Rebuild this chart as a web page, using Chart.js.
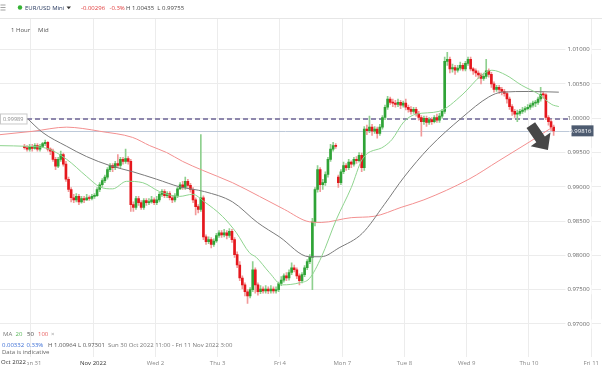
<!DOCTYPE html>
<html>
<head>
<meta charset="utf-8">
<script src="https://cdn.jsdelivr.net/npm/chart.js@4.4.0/dist/chart.umd.min.js"></script>
<style>
  html, body { margin: 0; padding: 0; background: #fff; }
  #wrap { width: 602px; height: 368px; position: relative; }
</style>
</head>
<body>
<div id="wrap"><canvas id="grafico"></canvas></div>
<script>
// dados: candles de 1 hora, hora 0 = seg 31 out 00:00 (primeiro candle = dom 21:00)
const startHour = -3;

const opens = [
  0.9959, 0.9957, 0.9955, 0.9959, 0.9956, 0.9960, 0.9955, 0.9959, 0.9963, 0.9965,
  0.9955, 0.9952, 0.9940, 0.9930, 0.9940, 0.9947, 0.9933, 0.9911, 0.9896, 0.9884,
  0.9881, 0.9886, 0.9878, 0.9883, 0.9881, 0.9884, 0.9883, 0.9886, 0.9887, 0.9896,
  0.9903, 0.9909, 0.9914, 0.9925, 0.9931, 0.9928, 0.9934, 0.9931, 0.9940, 0.9937,
  0.9941, 0.9937, 0.9874, 0.9870, 0.9883, 0.9877, 0.9870, 0.9880, 0.9877, 0.9878,
  0.9881, 0.9877, 0.9881, 0.9889, 0.9893, 0.9887, 0.9890, 0.9884, 0.9881, 0.9887,
  0.9897, 0.9903, 0.9899, 0.9908, 0.9902, 0.9896, 0.9881, 0.9871, 0.9867, 0.9884,
  0.9827, 0.9820, 0.9823, 0.9816, 0.9821, 0.9829, 0.9833, 0.9830, 0.9833, 0.9829,
  0.9835, 0.9823, 0.9801, 0.9786, 0.9767, 0.9757, 0.9747, 0.9741, 0.9750, 0.9779,
  0.9757, 0.9747, 0.9751, 0.9748, 0.9751, 0.9748, 0.9751, 0.9748, 0.9750, 0.9759,
  0.9764, 0.9770, 0.9767, 0.9775, 0.9782, 0.9779, 0.9770, 0.9763, 0.9772, 0.9782,
  0.9791, 0.9797, 0.9849, 0.9896, 0.9925, 0.9903, 0.9906, 0.9918, 0.9940, 0.9955,
  0.9960, 0.9914, 0.9906, 0.9922, 0.9931, 0.9928, 0.9936, 0.9933, 0.9940, 0.9938,
  0.9946, 0.9928, 0.9984, 0.9982, 0.9987, 0.9981, 0.9984, 0.9978, 0.9987, 1.0001,
  1.0016, 1.0028, 1.0023, 1.0022, 1.0020, 1.0023, 1.0019, 1.0022, 1.0016, 1.0013,
  1.0010, 1.0013, 1.0007, 1.0001, 0.9995, 1.0000, 0.9994, 0.9998, 0.9995, 1.0001,
  0.9997, 1.0003, 1.0010, 1.0083, 1.0086, 1.0072, 1.0074, 1.0070, 1.0073, 1.0077,
  1.0072, 1.0080, 1.0086, 1.0072, 1.0069, 1.0066, 1.0063, 1.0058, 1.0061, 1.0069,
  1.0064, 1.0050, 1.0042, 1.0045, 1.0042, 1.0039, 1.0036, 1.0028, 1.0017, 1.0010,
  1.0006, 1.0007, 1.0010, 1.0012, 1.0014, 1.0016, 1.0019, 1.0022, 1.0023, 1.0028,
  1.0035, 1.0034, 1.0001, 0.9995, 0.9987
];

const highs = [
  0.9962, 0.9960, 0.9962, 0.9962, 0.9963, 0.9963, 0.9962, 0.9965, 0.9968, 0.9966,
  0.9957, 0.9955, 0.9943, 0.9943, 0.9952, 0.9949, 0.9937, 0.9914, 0.9899, 0.9889,
  0.9890, 0.9889, 0.9886, 0.9886, 0.9889, 0.9887, 0.9889, 0.9890, 0.9899, 0.9906,
  0.9912, 0.9917, 0.9928, 0.9934, 0.9934, 0.9937, 0.9947, 0.9943, 0.9943, 0.9955,
  0.9944, 0.9940, 0.9878, 0.9886, 0.9886, 0.9880, 0.9883, 0.9883, 0.9883, 0.9886,
  0.9884, 0.9886, 0.9892, 0.9896, 0.9896, 0.9893, 0.9893, 0.9887, 0.9890, 0.9900,
  0.9906, 0.9908, 0.9914, 0.9911, 0.9905, 0.9899, 0.9884, 0.9874, 0.9976, 0.9887,
  0.9830, 0.9827, 0.9826, 0.9824, 0.9832, 0.9836, 0.9836, 0.9838, 0.9836, 0.9839,
  0.9838, 0.9826, 0.9805, 0.9791, 0.9770, 0.9760, 0.9750, 0.9753, 0.9791, 0.9782,
  0.9760, 0.9756, 0.9754, 0.9756, 0.9754, 0.9756, 0.9754, 0.9754, 0.9761, 0.9769,
  0.9773, 0.9775, 0.9779, 0.9789, 0.9786, 0.9782, 0.9773, 0.9775, 0.9785, 0.9794,
  0.9801, 0.9854, 0.9899, 0.9931, 0.9928, 0.9911, 0.9922, 0.9943, 0.9962, 0.9965,
  0.9963, 0.9917, 0.9925, 0.9936, 0.9934, 0.9940, 0.9938, 0.9943, 0.9944, 0.9950,
  0.9949, 0.9988, 0.9990, 1.0003, 0.9991, 0.9988, 0.9987, 0.9991, 1.0004, 1.0019,
  1.0032, 1.0031, 1.0028, 1.0026, 1.0028, 1.0026, 1.0025, 1.0028, 1.0019, 1.0017,
  1.0016, 1.0016, 1.0010, 1.0004, 1.0003, 1.0003, 1.0001, 1.0001, 1.0004, 1.0006,
  1.0007, 1.0013, 1.0089, 1.0096, 1.0089, 1.0079, 1.0077, 1.0077, 1.0082, 1.0080,
  1.0083, 1.0089, 1.0089, 1.0074, 1.0072, 1.0069, 1.0066, 1.0066, 1.0086, 1.0072,
  1.0067, 1.0053, 1.0048, 1.0048, 1.0045, 1.0042, 1.0039, 1.0031, 1.0020, 1.0013,
  1.0012, 1.0013, 1.0016, 1.0017, 1.0020, 1.0022, 1.0025, 1.0026, 1.0031, 1.0045,
  1.0039, 1.0036, 1.0004, 0.9998, 0.9990
];

const lows = [
  0.9955, 0.9952, 0.9952, 0.9952, 0.9955, 0.9952, 0.9952, 0.9957, 0.9960, 0.9952,
  0.9947, 0.9937, 0.9925, 0.9928, 0.9937, 0.9930, 0.9908, 0.9893, 0.9878, 0.9877,
  0.9878, 0.9874, 0.9876, 0.9877, 0.9880, 0.9880, 0.9881, 0.9883, 0.9886, 0.9893,
  0.9900, 0.9906, 0.9911, 0.9922, 0.9922, 0.9925, 0.9928, 0.9928, 0.9933, 0.9934,
  0.9933, 0.9864, 0.9864, 0.9867, 0.9873, 0.9867, 0.9867, 0.9873, 0.9874, 0.9876,
  0.9874, 0.9874, 0.9878, 0.9886, 0.9884, 0.9884, 0.9881, 0.9877, 0.9878, 0.9884,
  0.9896, 0.9896, 0.9896, 0.9899, 0.9892, 0.9877, 0.9859, 0.9862, 0.9864, 0.9823,
  0.9816, 0.9817, 0.9811, 0.9813, 0.9819, 0.9826, 0.9826, 0.9827, 0.9824, 0.9826,
  0.9819, 0.9797, 0.9782, 0.9763, 0.9751, 0.9741, 0.9730, 0.9738, 0.9747, 0.9745,
  0.9742, 0.9744, 0.9745, 0.9745, 0.9744, 0.9745, 0.9745, 0.9745, 0.9747, 0.9756,
  0.9761, 0.9763, 0.9764, 0.9772, 0.9776, 0.9766, 0.9757, 0.9760, 0.9769, 0.9779,
  0.9788, 0.9750, 0.9843, 0.9892, 0.9893, 0.9896, 0.9902, 0.9914, 0.9937, 0.9952,
  0.9956, 0.9899, 0.9903, 0.9919, 0.9924, 0.9925, 0.9928, 0.9930, 0.9934, 0.9936,
  0.9922, 0.9924, 0.9976, 0.9979, 0.9975, 0.9978, 0.9971, 0.9975, 0.9984, 0.9998,
  1.0013, 1.0020, 1.0017, 1.0016, 1.0017, 1.0014, 1.0016, 1.0012, 1.0009, 1.0006,
  1.0007, 1.0003, 0.9997, 0.9974, 0.9991, 0.9988, 0.9991, 0.9991, 0.9993, 0.9994,
  0.9994, 1.0000, 1.0007, 1.0077, 1.0066, 1.0067, 1.0064, 1.0067, 1.0070, 1.0069,
  1.0069, 1.0077, 1.0069, 1.0064, 1.0061, 1.0058, 1.0050, 1.0055, 1.0058, 1.0060,
  1.0045, 1.0038, 1.0039, 1.0036, 1.0034, 1.0032, 1.0022, 1.0013, 1.0004, 1.0001,
  0.9995, 1.0004, 1.0007, 1.0009, 1.0012, 1.0013, 1.0016, 1.0017, 1.0020, 1.0025,
  1.0029, 0.9998, 0.9990, 0.9982, 0.9975
];

const closes = [
  0.9957, 0.9955, 0.9959, 0.9956, 0.9960, 0.9955, 0.9959, 0.9963, 0.9965, 0.9955,
  0.9952, 0.9940, 0.9930, 0.9940, 0.9947, 0.9933, 0.9911, 0.9896, 0.9884, 0.9881,
  0.9886, 0.9878, 0.9883, 0.9881, 0.9884, 0.9883, 0.9886, 0.9887, 0.9896, 0.9903,
  0.9909, 0.9914, 0.9925, 0.9931, 0.9928, 0.9934, 0.9931, 0.9940, 0.9937, 0.9941,
  0.9937, 0.9874, 0.9870, 0.9883, 0.9877, 0.9870, 0.9880, 0.9877, 0.9878, 0.9881,
  0.9877, 0.9881, 0.9889, 0.9893, 0.9887, 0.9890, 0.9884, 0.9881, 0.9887, 0.9897,
  0.9903, 0.9899, 0.9908, 0.9902, 0.9896, 0.9881, 0.9871, 0.9867, 0.9884, 0.9827,
  0.9820, 0.9823, 0.9816, 0.9821, 0.9829, 0.9833, 0.9830, 0.9833, 0.9829, 0.9835,
  0.9823, 0.9801, 0.9786, 0.9767, 0.9757, 0.9747, 0.9741, 0.9750, 0.9779, 0.9757,
  0.9747, 0.9751, 0.9748, 0.9751, 0.9748, 0.9751, 0.9748, 0.9750, 0.9759, 0.9764,
  0.9770, 0.9767, 0.9775, 0.9782, 0.9779, 0.9770, 0.9763, 0.9772, 0.9782, 0.9791,
  0.9797, 0.9849, 0.9896, 0.9925, 0.9903, 0.9906, 0.9918, 0.9940, 0.9955, 0.9960,
  0.9959, 0.9906, 0.9922, 0.9931, 0.9928, 0.9936, 0.9933, 0.9940, 0.9938, 0.9946,
  0.9928, 0.9984, 0.9982, 0.9987, 0.9981, 0.9984, 0.9978, 0.9987, 1.0001, 1.0016,
  1.0028, 1.0023, 1.0022, 1.0020, 1.0023, 1.0019, 1.0022, 1.0016, 1.0013, 1.0010,
  1.0013, 1.0007, 1.0001, 0.9995, 1.0000, 0.9994, 0.9998, 0.9995, 1.0001, 0.9997,
  1.0003, 1.0010, 1.0083, 1.0086, 1.0072, 1.0074, 1.0070, 1.0073, 1.0077, 1.0072,
  1.0080, 1.0086, 1.0072, 1.0069, 1.0066, 1.0063, 1.0058, 1.0061, 1.0069, 1.0064,
  1.0050, 1.0042, 1.0045, 1.0042, 1.0039, 1.0036, 1.0028, 1.0017, 1.0010, 1.0006,
  1.0007, 1.0010, 1.0012, 1.0014, 1.0016, 1.0019, 1.0022, 1.0023, 1.0028, 1.0035,
  1.0034, 1.0001, 0.9995, 0.9987, 0.99816
];

// medias moveis
const ma20Hours = [-12, -1.5, 6.2, 13.8, 21.5, 26.5, 31.5, 36.9, 43.1, 49.6, 57.3, 62.3, 66.9, 73.8, 79.2, 84.2, 86.9, 91.9, 96.9, 103.5, 107.3, 111.9, 117.7, 123.5, 127.7, 136.2, 139.2, 143.8, 148.5, 157.3, 166.2, 173.8, 177.7, 183.1, 189.2, 195.8, 200.8, 203.5];
const ma20Values = [0.9960, 0.9959, 0.9956, 0.9940, 0.9915, 0.9900, 0.9897, 0.9908, 0.9906, 0.9893, 0.9886, 0.9889, 0.9878, 0.9857, 0.9833, 0.9804, 0.9797, 0.9775, 0.9757, 0.9760, 0.9766, 0.9797, 0.9852, 0.9899, 0.9940, 0.9959, 0.9969, 0.9995, 1.0006, 1.0010, 1.0034, 1.0063, 1.0070, 1.0063, 1.0048, 1.0035, 1.0020, 1.0017];

const ma50Hours = [-1.5, 4.6, 13.8, 21.5, 30.4, 39.2, 48.5, 57.3, 66.9, 77.7, 87.3, 95.8, 107.3, 111.9, 118.8, 127.7, 136.2, 143.8, 153.5, 166.2, 176.5, 181.5, 191.9, 203.5];
const ma50Values = [1.0000, 0.9979, 0.9959, 0.9944, 0.9931, 0.9922, 0.9911, 0.9900, 0.9893, 0.9878, 0.9848, 0.9827, 0.9798, 0.9798, 0.9811, 0.9832, 0.9874, 0.9914, 0.9957, 1.0001, 1.0031, 1.0038, 1.0039, 1.0038];

const ma100Hours = [-12, 0.8, 13.8, 20, 26.5, 39.2, 45.8, 52.3, 58.5, 66.2, 77.7, 88.1, 97.7, 107.3, 111.9, 123.5, 132.3, 142.7, 151.5, 168.8, 180.4, 192, 201.5];
const ma100Values = [0.9976, 0.9981, 0.9987, 0.9985, 0.9981, 0.9972, 0.9960, 0.9950, 0.9937, 0.9924, 0.9906, 0.9886, 0.9867, 0.9849, 0.9848, 0.9855, 0.9857, 0.9870, 0.9881, 0.9911, 0.9938, 0.9965, 0.9988];

// eixo x: inicio de cada dia
const dayTicks = [0, 24, 48, 72, 96, 120, 144, 168, 192, 216];
const dayLabels = ['Mon 31', 'Nov 2022', 'Wed 2', 'Thu 3', 'Fri 4', 'Mon 7', 'Tue 8', 'Wed 9', 'Thu 10', 'Fri 11'];

const lastPrice = 0.99816;
const refLine = 0.99989;

// montar datasets
const wicks = [];
const bodies = [];
const wickColors = [];
const bodyColors = [];
for (let i = 0; i < closes.length; i++) {
  const x = startHour + i + 0.5;
  const up = closes[i] >= opens[i];
  wicks.push({ x: x, y: [lows[i], highs[i]] });
  bodies.push({ x: x, y: [opens[i], closes[i]] });
  wickColors.push(up ? '#8fd08f' : '#f29a9a');
  bodyColors.push(up ? '#2fa336' : '#e5171d');
}
const pts = (hs, vs) => hs.map((h, i) => ({ x: h, y: vs[i] }));

const FONT = 'Open Sans';

const decor = {
  id: 'decor',
  beforeDatasetsDraw(chart) {
    const { ctx, chartArea, scales } = chart;
    ctx.save();
    // linha do ultimo preco
    const yl = Math.round(scales.y.getPixelForValue(lastPrice)) + 0.5;
    ctx.strokeStyle = '#bdc9d9';
    ctx.lineWidth = 1;
    ctx.beginPath(); ctx.moveTo(chartArea.left, yl); ctx.lineTo(571, yl); ctx.stroke();
    // linha tracejada
    const yr = scales.y.getPixelForValue(refLine);
    ctx.strokeStyle = '#8e88ad';
    ctx.lineWidth = 2;
    ctx.setLineDash([5, 3]);
    ctx.beginPath(); ctx.moveTo(27, yr); ctx.lineTo(571, yr); ctx.stroke();
    ctx.restore();
  },
  afterDraw(chart) {
    const { ctx, scales } = chart;
    ctx.save();
    ctx.textBaseline = 'middle';
    const txt = (s, x, y, color, size) => {
      ctx.font = (size || 6) + 'px "' + FONT + '"';
      ctx.fillStyle = color;
      ctx.fillText(s, x, y);
    };
    // topo
    ctx.fillStyle = '#fff';
    ctx.fillRect(0, 0, 602, 18);
    ctx.strokeStyle = '#e6e6e6';
    ctx.lineWidth = 1;
    ctx.beginPath(); ctx.moveTo(0, 18.5); ctx.lineTo(602, 18.5); ctx.stroke();
    ctx.strokeStyle = '#8a8a8a';
    ctx.lineWidth = 0.8;
    [5, 7.5, 10].forEach(y => { ctx.beginPath(); ctx.moveTo(0.5, y); ctx.lineTo(5.5, y); ctx.stroke(); });
    ctx.fillStyle = '#34b234';
    ctx.beginPath(); ctx.arc(20, 7.5, 2.2, 0, Math.PI * 2); ctx.fill();
    txt('EUR/USD Mini', 25, 8, '#26385e');
    ctx.fillStyle = '#333';
    ctx.beginPath(); ctx.moveTo(66.5, 6.5); ctx.lineTo(71, 6.5); ctx.lineTo(68.75, 9.2); ctx.closePath(); ctx.fill();
    txt('-0.00296', 81, 8, '#e03a3a');
    txt('-0.3%', 109.5, 8, '#e03a3a');
    txt('H 1.00435  L 0.99755', 126, 8, '#444');
    txt('1 Hour', 11, 30, '#555');
    txt('Mid', 38, 30, '#555');

    // caixa da linha tracejada
    const yr = scales.y.getPixelForValue(refLine);
    ctx.fillStyle = '#fff';
    ctx.strokeStyle = '#c9c9c9';
    ctx.lineWidth = 1;
    ctx.fillRect(0.5, yr - 5, 26.5, 10);
    ctx.strokeRect(0.5, yr - 5, 26.5, 10);
    txt('0.99989', 3, yr + 0.5, '#888', 5.5);

    // etiqueta do ultimo preco
    const yl = scales.y.getPixelForValue(lastPrice);
    ctx.fillStyle = '#4d5b70';
    ctx.fillRect(571.5, yl - 5.5, 22, 11);
    ctx.textAlign = 'right';
    txt('0.99816', 591.5, yl + 0.5, '#fff');
    ctx.textAlign = 'left';

    // seta
    const x0 = scales.x.getPixelForValue(192.7), y0 = scales.y.getPixelForValue(0.9990);
    const x1 = scales.x.getPixelForValue(199.3), y1 = scales.y.getPixelForValue(0.99535);
    const len = Math.hypot(x1 - x0, y1 - y0);
    const dx = (x1 - x0) / len, dy = (y1 - y0) / len;
    const nx = -dy, ny = dx;
    const sw = 5.2, hw = 12, hl = 13;
    const sx = x1 - dx * hl, sy = y1 - dy * hl;
    ctx.fillStyle = '#474747';
    ctx.beginPath();
    ctx.moveTo(x0 + nx * sw, y0 + ny * sw);
    ctx.lineTo(sx + nx * sw, sy + ny * sw);
    ctx.lineTo(sx + nx * hw, sy + ny * hw);
    ctx.lineTo(x1, y1);
    ctx.lineTo(sx - nx * hw, sy - ny * hw);
    ctx.lineTo(sx - nx * sw, sy - ny * sw);
    ctx.lineTo(x0 - nx * sw, y0 - ny * sw);
    ctx.closePath();
    ctx.fill();

    // legenda MA e info
    txt('MA', 3, 334.5, '#777');
    txt('20', 15.5, 334.5, '#55b555');
    txt('50', 27, 334.5, '#444');
    txt('100', 38, 334.5, '#e86060');
    txt('\u00d7', 51, 334.5, '#999');
    txt('0.00332', 2, 345, '#3c6fd6');
    txt('0.33%', 26.5, 345, '#3c6fd6');
    txt('H 1.00964', 48, 345, '#555');
    txt('L 0.97301', 78, 345, '#555');
    txt('Sun 30 Oct 2022 11:00 - Fri 11 Nov 2022 3:00', 108, 345, '#777');
    txt('Data is indicative', 2, 352.5, '#666');

    // rotulo do mes
    ctx.fillStyle = '#fff';
    ctx.fillRect(0, 358, 27, 10);
    txt('Oct 2022', 1, 362.5, '#333');
    ctx.restore();
  }
};

const grafico = document.getElementById('grafico');

new Chart(grafico, {
  type: 'bar',
  data: {
    datasets: [
      { type: 'line', label: 'MA 20', data: pts(ma20Hours, ma20Values), borderColor: '#8fd48f', borderWidth: 1, pointRadius: 0, cubicInterpolationMode: 'monotone' },
      { type: 'line', label: 'MA 50', data: pts(ma50Hours, ma50Values), borderColor: '#7a7a7a', borderWidth: 1, pointRadius: 0, cubicInterpolationMode: 'monotone' },
      { type: 'line', label: 'MA 100', data: pts(ma100Hours, ma100Values), borderColor: '#f39090', borderWidth: 1, pointRadius: 0, cubicInterpolationMode: 'monotone' },
      { label: 'body', data: bodies, backgroundColor: bodyColors, barThickness: 2, grouped: false, minBarLength: 1 },
      { label: 'wick', data: wicks, backgroundColor: wickColors, barThickness: 1, grouped: false }
    ]
  },
  options: {
    responsive: true,
    maintainAspectRatio: false,
    animation: false,
    layout: { padding: { top: 19 } },
    plugins: {
      legend: { display: false },
      tooltip: { enabled: false }
    },
    scales: {
      x: {
        type: 'linear',
        offset: false,
        min: -11.92,
        max: 219.6,
        afterFit: s => { s.height = 11; },
        afterBuildTicks: s => { s.ticks = dayTicks.map(v => ({ value: v })); },
        border: { display: false },
        grid: { color: '#ececec', drawTicks: false, offset: false },
        ticks: {
          autoSkip: false,
          maxRotation: 0,
          padding: 3,
          font: { size: 6, family: FONT },
          color: ctx => (ctx.tick && ctx.tick.value === 24 ? '#333' : '#888'),
          callback: v => dayLabels[dayTicks.indexOf(v)]
        }
      },
      y: {
        position: 'right',
        min: 0.96518,
        max: 1.01447,
        afterFit: s => { s.width = 0; },
        border: { display: false },
        grid: { color: '#ececec', drawTicks: false },
        ticks: {
          stepSize: 0.005,
          includeBounds: false,
          mirror: true,
          padding: -11,
          color: '#666',
          font: { size: 6, family: FONT },
          showLabelBackdrop: true,
          backdropColor: '#fff',
          backdropPadding: { left: 2, right: 2, top: 1, bottom: 1 },
          callback: v => v.toFixed(5)
        }
      }
    }
  },
  plugins: [decor]
});
</script>
</body>
</html>
